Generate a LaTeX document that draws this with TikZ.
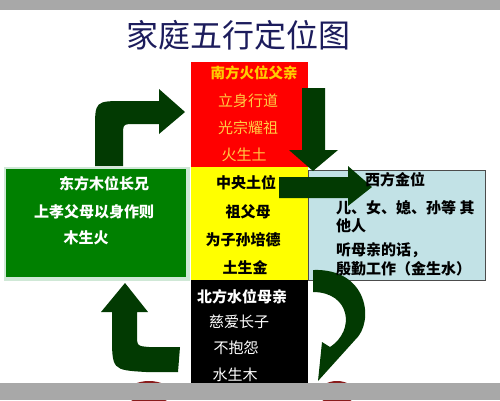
\documentclass[tikz,border=0pt]{standalone}
\usepackage{fontspec}
\setmainfont{Noto Sans CJK SC}
\definecolor{redbox}{HTML}{FF0000}
\definecolor{yelbox}{HTML}{FFFF00}
\definecolor{grnbox}{HTML}{008000}
\definecolor{bluebox}{HTML}{C2E2E6}
\definecolor{arrowgreen}{HTML}{023A02}
\definecolor{goldtxt}{HTML}{FFCC00}
\definecolor{goldlt}{HTML}{FFCC44}
\definecolor{navy}{HTML}{1C1C5C}
\definecolor{graybar}{HTML}{A8A8A8}
\definecolor{mint}{HTML}{CFE8D6}
\definecolor{darkred}{HTML}{8A1C1C}
\begin{document}
\begin{tikzpicture}[x=1pt,y=-1pt,
  box/.style={draw=none, inner sep=0pt, outer sep=0pt},
  txt/.style={inner sep=0pt, font=\fontsize{15}{17}\selectfont},
  btxt/.style={inner sep=0pt, font=\fontsize{15}{17}\selectfont\bfseries},
  arrowshape/.style={fill=arrowgreen, draw=none}
]
\useasboundingbox (0,0) rectangle (500,400);
\fill[white] (0,0) rectangle (500,400);

% title
\node[inner sep=0pt, text=navy, font=\fontsize{32}{34}\selectfont] (title) at (238,35) {家庭五行定位图};

% boxes
\node[box, fill=redbox, minimum width=117pt, minimum height=105pt] (south) at (249.5,114.5) {};
\node[box, fill=yelbox, minimum width=117pt, minimum height=113pt] (center) at (249.5,223.5) {};
\node[box, fill=black, minimum width=117pt, minimum height=120pt] (north) at (249.5,340) {};
\node[box, fill=mint, minimum width=186pt, minimum height=114pt] (eastbg) at (97,224) {};
\node[box, fill=grnbox, minimum width=180pt, minimum height=108pt] (east) at (96,223) {};
\node[box, fill=bluebox, draw=black!70, line width=0.6pt, minimum width=177pt, minimum height=110pt] (west) at (396.5,225) {};

% bottom red shapes
\fill[darkred] (149,393) ellipse (22 and 12);
\fill[darkred] (337,393) ellipse (18 and 12);

% arrows
\fill[arrowshape] (95,166) -- (95,130) .. controls (95,101) .. (125,101) -- (159,101)
  -- (159,89) -- (185,112) -- (159,134) -- (159,124) -- (135,124)
  .. controls (123,124) .. (123,136) -- (123,166) -- cycle;
\fill[arrowshape] (302,88) -- (325,88) -- (325,150) -- (338,150) -- (313,171)
  -- (289,150) -- (302,150) -- cycle;
\fill[arrowshape] (279,177) -- (348,177) -- (348,166) -- (372,187) -- (348,206)
  -- (348,198) -- (279,198) -- cycle;
\fill[arrowshape] (125,283) -- (148,312) -- (137,312) -- (137,334)
  .. controls (137,346) .. (149,347) -- (180,347) -- (178,372) -- (146,372)
  .. controls (112,370) .. (112,334) -- (112,312) -- (101,312) -- cycle;
\fill[arrowshape] (313,270) .. controls (368,268) and (375,322) .. (355,340)
  -- (318,381) -- (322,342) -- (330,347)
  .. controls (356,330) and (350,292) .. (313,292) -- cycle;

% south text
\node[inner sep=0pt, text=goldtxt, font=\fontsize{14.5}{17}\selectfont\bfseries] (s1) at (254,73) {南方火位父亲};
\node[txt, text=goldlt] (s2) at (248,101) {立身行道};
\node[txt, text=goldlt] (s3) at (248,128) {光宗耀祖};
\node[txt, text=goldlt] (s4) at (244,155) {火生土};

% center text
\node[btxt, text=black] (c1) at (246,183) {中央土位};
\node[btxt, text=black] (c2) at (248,212) {祖父母};
\node[btxt, text=black] (c3) at (243,240) {为子孙培德};
\node[btxt, text=black] (c4) at (245,268) {土生金};

% east text
\node[btxt, text=white] (e1) at (104,184) {东方木位长兄};
\node[btxt, text=white] (e2) at (94,212) {上孝父母以身作则};
\node[btxt, text=white] (e3) at (86,238) {木生火};

% west text
\node[btxt, text=black] (w1) at (395,180) {西方金位};
\node[btxt, text=black, anchor=west] (w2) at (336,208) {儿、女、媳、孙等 其};
\node[btxt, text=black, anchor=west] (w3) at (336,226) {他人};
\node[btxt, text=black, anchor=west] (w4) at (336,250) {听母亲的话，};
\node[btxt, text=black, anchor=west] (w5) at (336,269) {殷勤工作（金生水）};

% north text
\node[btxt, text=white] (n1) at (242,297) {北方水位母亲};
\node[txt, text=white] (n2) at (239,322) {慈爱长子};
\node[txt, text=white] (n3) at (236,348) {不抱怨};
\node[txt, text=white] (n4) at (235,375) {水生木};

% gray bars
\fill[graybar] (0,0) rectangle (500,10);
\fill[graybar] (0,383) rectangle (500,400);
\end{tikzpicture}
\end{document}
